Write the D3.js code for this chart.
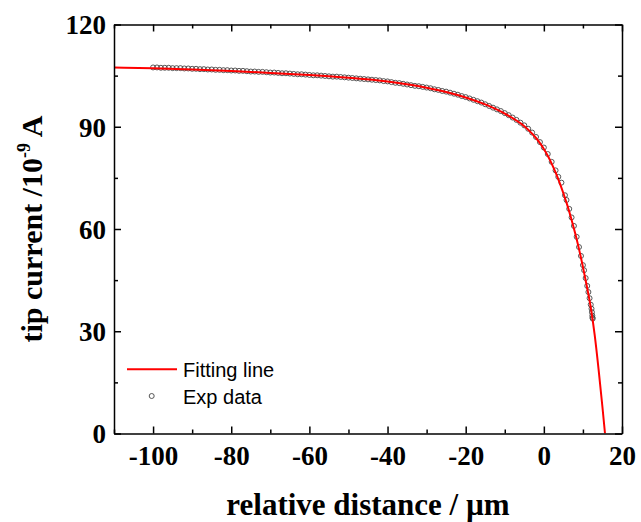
<!DOCTYPE html>
<html><head><meta charset="utf-8">
<script src="https://cdn.jsdelivr.net/npm/d3@7"></script>
<style>body{margin:0;background:#fff}svg{display:block}</style>
</head><body>
<script>
// ---- data ----
const xDomain = [-110, 20];
const yDomain = [0, 120];
const xTickValues = [-100, -80, -60, -40, -20, 0, 20];
const xMinorTicks = [-110, -90, -70, -50, -30, -10, 10];
const yTickValues = [0, 30, 60, 90, 120];
const yMinorTicks = [15, 45, 75, 105];

const fitX = [-110,-100,-90,-80,-70,-60,-50,-40,-30,-25,-20,-15,-10,-5,-4,-3,-2,-1,0,1,2,3,4,5,6,7,8,9,10,11,12,13,14,15,15.65];
const fitY = [107.35,107.15,106.8,106.35,105.8,105.15,104.35,103.25,101.45,100.2,98.6,96.55,93.85,90.15,89.15,88.0,86.7,85.2,83.5,81.5,79.2,76.6,73.7,70.5,67.0,63.1,58.8,54.1,48.9,43.2,37.0,29.0,18.9,7.7,0];

const expX = [-100,-99,-98,-97,-96,-95,-94,-93,-92,-91,-90,-89,-88,-87,-86,-85,-84,-83,-82,-81,-80,
  -79,-78,-77,-76,-75,-74,-73,-72,-71,-70,-69,-68,-67,-66,-65,-64,-63,-62,-61,-60,
  -59,-58,-57,-56,-55,-54,-53,-52,-51,-50,-49,-48,-47,-46,-45,-44,-43,-42,-41,-40,
  -39,-38,-37,-36,-35,-34,-33,-32,-31,-30,-29,-28,-27,-26,-25,-24,-23,-22,-21,-20,
  -19,-18,-17,-16,-15,-14,-13,-12,-11,-10,-9,-8,-7,-6,-5,-4,-3,-2,-1,0,
  1,2,3,3.7,4.5,5.4,5.8,6.5,7.1,7.7,8.4,9.0,9.5,10.0,10.3,10.7,11.1,11.4,11.7,12.0,12.2,12.3,12.4,12.45,12.5];
const expY = [107.4,107.4,107.3,107.3,107.3,107.2,107.2,107.2,107.1,107.1,107.0,107.0,106.9,106.9,106.8,106.8,106.7,106.7,106.6,106.6,106.5,
  106.5,106.4,106.4,106.3,106.2,106.2,106.1,106.1,106.0,105.9,105.9,105.8,105.7,105.7,105.6,105.5,105.4,105.4,105.3,105.2,
  105.1,105.1,105.0,104.9,104.8,104.7,104.7,104.6,104.5,104.4,104.3,104.2,104.1,104.0,103.9,103.8,103.7,103.6,103.4,103.3,
  103.1,102.9,102.8,102.6,102.4,102.2,102.0,101.9,101.7,101.5,101.3,101.0,100.8,100.5,100.3,100.0,99.7,99.4,99.0,98.7,
  98.3,97.9,97.5,97.1,96.6,96.1,95.6,95.1,94.6,94.0,93.4,92.7,92.0,91.2,90.4,89.4,88.3,87.0,85.5,83.9,
  82.0,79.7,77.2,75.3,73.6,69.9,68.5,65.9,63.4,60.9,57.7,54.7,52.1,49.4,47.9,45.6,43.3,41.5,39.7,37.8,36.6,35.6,34.6,34.0,33.7];

const legendLabels = ["Fitting line", "Exp data"];
const xTitle = "relative distance / \u00B5m";

// ---- layout ----
const W = 641, H = 522;
const L = 114, R = 622, T = 24.5, B = 433.5;
const svg = d3.select("body").append("svg").attr("width", W).attr("height", H);
const x = d3.scaleLinear().domain(xDomain).range([L, R]);
const y = d3.scaleLinear().domain(yDomain).range([B, T]);

const serif = "'Liberation Serif','Times New Roman',serif";
const sans = "'Liberation Sans',Arial,sans-serif";

svg.append("defs").append("clipPath").attr("id","clip")
  .append("rect").attr("x", L).attr("y", T).attr("width", R-L).attr("height", B-T);

// data layers
const fitPts = fitX.map((v,i)=>[v, fitY[i]]);
const line = d3.line().x(d=>x(d[0])).y(d=>y(d[1])).curve(d3.curveMonotoneX);

svg.append("g").attr("clip-path","url(#clip)").selectAll("circle")
  .data(expX.map((v,i)=>[v, expY[i]]))
  .join("circle")
  .attr("cx", d=>x(d[0])).attr("cy", d=>y(d[1])).attr("r", 2.5)
  .attr("fill","none").attr("stroke","#444").attr("stroke-width",0.9);

svg.append("path").attr("clip-path","url(#clip)")
  .datum(fitPts).attr("d", line)
  .attr("fill","none").attr("stroke","#ff0000").attr("stroke-width",2);

// axes (ticks inward)
function ax(gen, tr, vals, size, labels) {
  const g = svg.append("g").attr("transform", tr)
    .call(gen.tickValues(vals).tickSize(size).tickSizeOuter(0).tickFormat(labels ? d3.format("d") : ""));
  g.select(".domain").attr("stroke","#000").attr("stroke-width",1.5);
  g.selectAll(".tick line").attr("stroke","#000").attr("stroke-width",1.5);
  g.selectAll("text").attr("font-family", serif).attr("font-weight","bold").attr("font-size",27).attr("fill","#000");
  return g;
}
// bottom
const gb = ax(d3.axisBottom(x), `translate(0,${B})`, xTickValues, -7, true);
gb.selectAll(".tick text").attr("y", 31).attr("dy", 0).text(d=>d3.format("d")(d).replace("\u2212","-"));
ax(d3.axisBottom(x), `translate(0,${B})`, xMinorTicks, -4, false).select(".domain").remove();
// top
ax(d3.axisTop(x), `translate(0,${T})`, xTickValues, -7, false);
ax(d3.axisTop(x), `translate(0,${T})`, xMinorTicks, -4, false).select(".domain").remove();
// left
const gl = ax(d3.axisLeft(y), `translate(${L},0)`, yTickValues, -7, true);
gl.selectAll(".tick text").attr("x", -8).attr("dy","0.35em");
ax(d3.axisLeft(y), `translate(${L},0)`, yMinorTicks, -4, false).select(".domain").remove();
// right
ax(d3.axisRight(y), `translate(${R},0)`, yTickValues, -7, false);
ax(d3.axisRight(y), `translate(${R},0)`, yMinorTicks, -4, false).select(".domain").remove();

// axis titles
svg.append("text").attr("x", (L+R)/2).attr("y", 515)
  .attr("text-anchor","middle").attr("font-family", serif).attr("font-weight","bold")
  .attr("font-size",31).text(xTitle);

const yt = svg.append("text").attr("transform", `translate(42,${(T+B)/2}) rotate(-90)`)
  .attr("text-anchor","middle").attr("font-family", serif).attr("font-weight","bold")
  .attr("font-size",30);
yt.append("tspan").text("tip current /10");
yt.append("tspan").attr("font-size",18).attr("dy",-12).text("-9");
yt.append("tspan").attr("dy",12).text(" A");

// legend
const lg = svg.append("g");
lg.append("line").attr("x1",127).attr("x2",177).attr("y1",369.3).attr("y2",369.3)
  .attr("stroke","#ff0000").attr("stroke-width",2);
lg.append("circle").attr("cx",151.7).attr("cy",396).attr("r",2.5)
  .attr("fill","none").attr("stroke","#444").attr("stroke-width",0.9);
lg.selectAll("text.lab").data(legendLabels).join("text").attr("class","lab")
  .attr("x",183).attr("y",(d,i)=>376.5+i*27)
  .attr("font-family", sans).attr("font-size",20).attr("fill","#000").text(d=>d);
</script>
</body></html>
